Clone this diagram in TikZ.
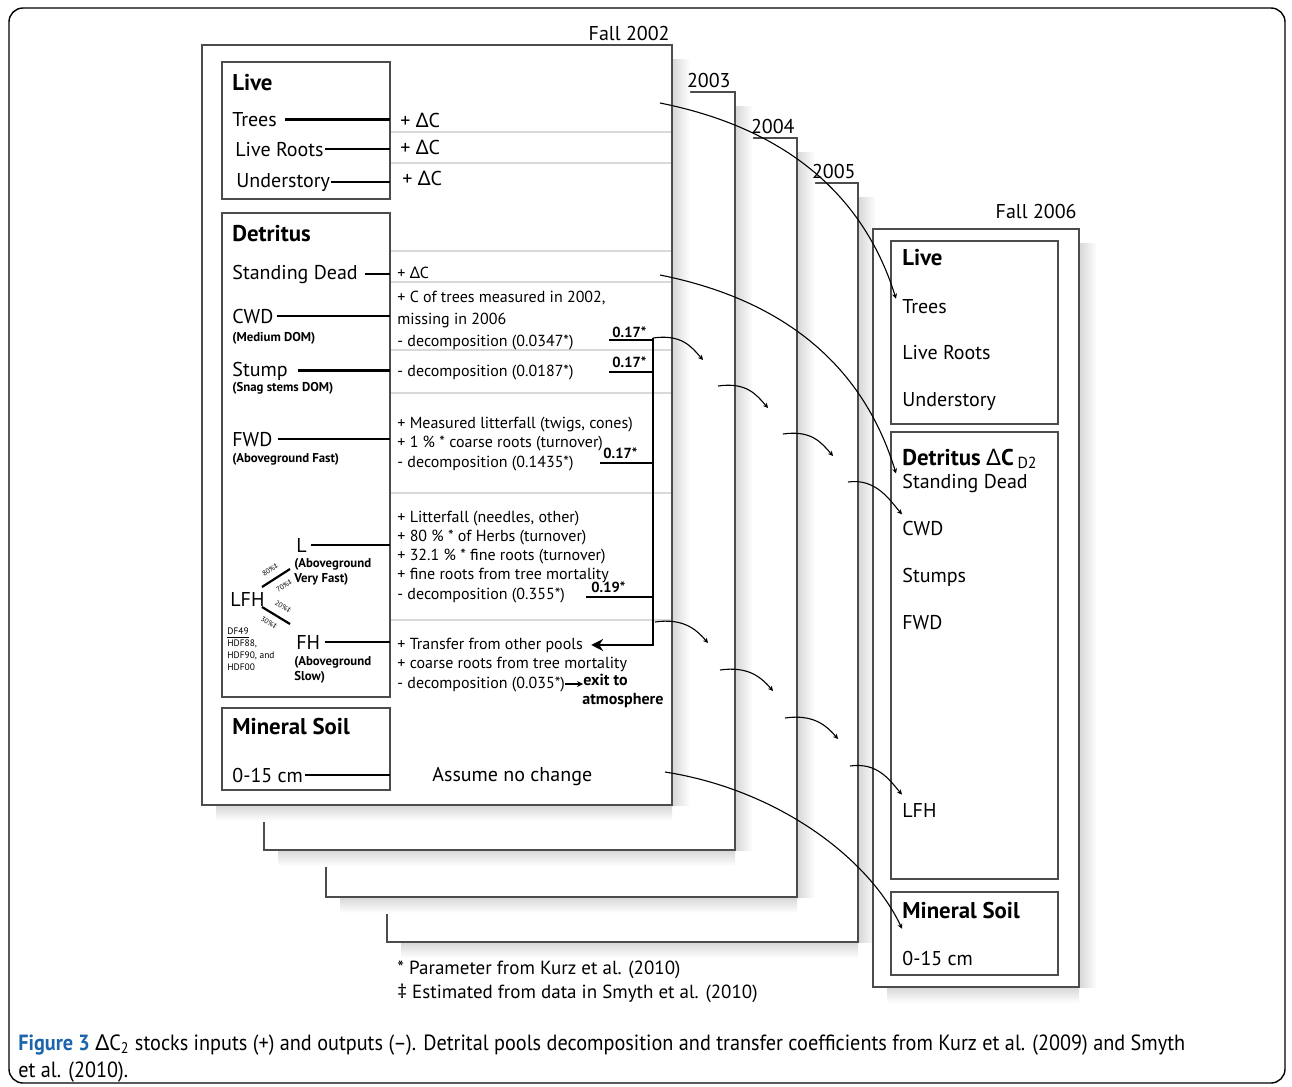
\documentclass[tikz,border=0pt]{standalone}
\usepackage{fontspec}
\setmainfont{PT Sans}
\newfontfamily\grk{Noto Sans}
\newfontfamily\capfont[FakeStretch=0.92]{PT Sans}
\usepackage{xcolor}
\usetikzlibrary{positioning,arrows.meta,calc}
\definecolor{figblue}{RGB}{28,100,172}
\newcommand{\dC}{{\grk Δ}C}
\newcommand{\dagg}{{\grk ‡}}

\begin{document}
\begin{tikzpicture}[x=0.5pt,y=-0.5pt,>=Stealth,
  every node/.style={inner sep=0pt,anchor=base west},
  lbl/.style={font=\fontsize{10}{12}\selectfont},
  hdr/.style={font=\fontsize{11.4}{13}\selectfont\bfseries},
  sub/.style={font=\fontsize{6.4}{7.5}\selectfont\bfseries},
  flux/.style={font=\fontsize{8}{9.5}\selectfont},
  coef/.style={font=\fontsize{7.3}{8.5}\selectfont\bfseries},
  exitlbl/.style={font=\fontsize{8}{9.5}\selectfont\bfseries},
  note/.style={font=\fontsize{4.7}{5.5}\selectfont},
  pct/.style={font=\fontsize{3.6}{4.2}\selectfont,anchor=center},
  fnote/.style={font=\fontsize{9.5}{11}\selectfont},
  yr/.style={lbl,anchor=base east},
  capt/.style={font=\capfont\fontsize{11}{13}\selectfont},
  sheet/.style={draw=black!70,line width=0.7pt,fill=white},
  pool/.style={draw=black!70,line width=0.8pt},
  link/.style={line width=1.4pt},
  rowsep/.style={draw=black!15,line width=0.6pt},
  flow/.style={-{Stealth[length=2.5pt,width=2.5pt]},line width=0.55pt},
  shdr/.style={left color=black!16,right color=white},
  shdb/.style={top color=black!16,bottom color=white}]
  \useasboundingbox (0,0) rectangle (1292,1087);
  \draw[line width=0.7pt,rounded corners=7pt] (9,8) rectangle (1285,1083);

  % yearly sheets, back to front
  \foreach \l/\t/\r/\b in {387/183/858/942,326/138/797/897,264/92/735/850,202/45/672/805}{
    \shade[shdr] (\r,\t+14) rectangle (\r+18,\b);
    \shade[shdb] (\l+14,\b) rectangle (\r,\b+16);
    \draw[sheet] (\l,\t) rectangle (\r,\b);
  }
  \shade[shdr] (1079,243) rectangle (1097,987);
  \shade[shdb] (887,987) rectangle (1079,1003);
  \draw[sheet] (873,229) rectangle (1079,987);

  \node[yr] (y02) at (670,40) {Fall 2002};
  \node[yr] (y03) at (731,87) {2003};
  \node[yr] (y04) at (795,133) {2004};
  \node[yr] (y05) at (856,178) {2005};
  \node[yr] (y06) at (1077,218) {Fall 2006};

  % Fall 2002 pools
  \draw[pool] (222,62) rectangle (390,199);
  \draw[pool] (222,213) rectangle (390,697);
  \draw[pool] (222,708) rectangle (390,790);
  \coordinate (div) at (390,0);
  \foreach \y in {132,163,251,282,350,393,493,620} \draw[rowsep] (391,\y) -- (671,\y);

  \node[hdr] (live) at (232,90) {Live};
  \node[lbl] (trees) at (232,126) {Trees};
  \node[lbl] (roots) at (235,156) {Live Roots};
  \node[lbl] (under) at (236,187) {Understory};
  \node[hdr] (detr) at (232,241) {Detritus};
  \node[lbl] (sdead) at (232,279) {Standing Dead};
  \node[lbl] (cwd) at (232,323) {CWD};
  \node[sub] (cwdsub) at (232,341) {(Medium DOM)};
  \node[lbl] (stump) at (232,376) {Stump};
  \node[sub] (stumpsub) at (232,391) {(Snag stems DOM)};
  \node[lbl] (fwd) at (232,446) {FWD};
  \node[sub] (fwdsub) at (232,462) {(Aboveground Fast)};
  \node[lbl] (lit) at (296,552) {L};
  \node[sub] (litsub1) at (294,567) {(Aboveground};
  \node[sub] (litsub2) at (294,582) {Very Fast)};
  \node[lbl] (lfh) at (230,606) {LFH};
  \node[lbl] (fh) at (296,649) {FH};
  \node[sub] (fhsub1) at (294,665) {(Aboveground};
  \node[sub] (fhsub2) at (294,680) {Slow)};
  \node[hdr] (msoil) at (232,734) {Mineral Soil};
  \node[lbl] (depth) at (232,782) {0-15 cm};

  \foreach \n/\g in {trees/4,roots/0.5,under/0.5,sdead/3.5,cwd/1.5,stump/5,fwd/2.5,lit/2,fh/2,depth/1}
    \draw[link] ([xshift=\g]\n.east) -- (\n.east -| div);

  % LFH split
  \coordinate (s1) at (262,587); \coordinate (s2) at (290,569);
  \coordinate (s3) at (262,607); \coordinate (s4) at (290,624);
  \draw[line width=1.1pt] (s1) -- (s2);
  \draw[line width=1.1pt] (s3) -- (s4);
  \node[pct,rotate=33] (p80) at (270,570) {80\%\dagg};
  \node[pct,rotate=33] (p70) at (284,586) {70\%\dagg};
  \node[pct,rotate=-31] (p20) at (283,607) {20\%\dagg};
  \node[pct,rotate=-31] (p30) at (269,623) {30\%\dagg};
  \node[note] (df1) at (227,634) {\underline{DF49}};
  \node[note] (df2) at (227,646) {HDF88,};
  \node[note] (df3) at (227,658) {HDF90, and};
  \node[note] (df4) at (227,670) {HDF00};

  % changes
  \node[lbl] (dc1) at (400,127) {+ \dC};
  \node[lbl] (dc2) at (400,154) {+ \dC};
  \node[lbl] (dc3) at (402,185) {+ \dC};
  \node[flux] (dc4) at (397,278) {+ \dC};
  \foreach \t [count=\i] in {{+ C of trees measured in 2002,},{missing in 2006},{- decomposition (0.0347*)}}
    \node[flux] (cw\i) at (397,280+22*\i) {\t};
  \node[flux] (sp1) at (397,376) {- decomposition (0.0187*)};
  \foreach \t [count=\i] in {{+ Measured litterfall (twigs, cones)},{+ 1 \% * coarse roots (turnover)},{- decomposition (0.1435*)}}
    \node[flux] (fw\i) at (397,408.5+19.5*\i) {\t};
  \foreach \t [count=\i] in {{+ Litterfall (needles, other)},{+ 80 \% * of Herbs (turnover)},{+ 32.1 \% * fine roots (turnover)},{+ fine roots from tree mortality},{- decomposition (0.355*)}}
    \node[flux] (lf\i) at (397,502.75+19.25*\i) {\t};
  \foreach \t [count=\i] in {{+ Transfer from other pools},{+ coarse roots from tree mortality},{- decomposition (0.035*)}}
    \node[flux] (fh\i) at (397,629.5+19.5*\i) {\t};
  \node[exitlbl] (exit) at (583,685) {exit to};
  \node[exitlbl] (atm) at (582,704) {atmosphere};
  \draw[-{Stealth[length=3pt,width=3pt]},line width=0.8pt] (fh3.east) -- (fh3.east -| exit.west);
  \node[lbl] (same) at (432,781) {Assume no change};

  % transfer coefficients
  \coordinate (bar) at (653,338);
  \foreach \x/\y/\lx/\ly/\v [count=\i] in {609/340/612/337/0.17,609/372/612/367/0.17,600/463/603/458/0.17,586/597/591/592/0.19}{
    \coordinate (k\i) at (\x,\y);
    \node[coef] (c\i) at (\lx,\ly) {\v*};
    \draw[link] (k\i) -- (k\i -| bar);
  }
  \draw[link,-{Stealth[length=6pt,width=6pt]}] (bar) |- ([xshift=4]fh1.east);

  % Fall 2006 pools
  \draw[pool] (891,241) rectangle (1058,424);
  \draw[pool] (891,432) rectangle (1058,879);
  \draw[pool] (891,892) rectangle (1058,975);
  \node[hdr] (live06) at (902,265) {Live};
  \node[lbl] (t06) at (902,313) {Trees};
  \node[lbl] (r06) at (902,359) {Live Roots};
  \node[lbl] (u06) at (902,406) {Understory};
  \node[hdr] (det06) at (902,465) {Detritus \dC\,\textsubscript{\mdseries D2}};
  \node[lbl] (sd06) at (902,488) {Standing Dead};
  \node[lbl] (cwd06) at (902,535) {CWD};
  \node[lbl] (st06) at (902,582) {Stumps};
  \node[lbl] (fwd06) at (902,629) {FWD};
  \node[lbl] (lfh06) at (902,817) {LFH};
  \node[hdr] (ms06) at (902,918) {Mineral Soil};
  \node[lbl] (dp06) at (902,965) {0-15 cm};

  % carry-over arrows
  \coordinate (o1) at (660,103);
  \coordinate (o2) at (660,275);
  \coordinate (o3) at (665,772);
  \draw[flow] (o1) .. controls (780,127) and (862,190) .. ([xshift=-3]t06.north west);
  \draw[flow] (o2) .. controls (780,299) and (862,362) .. ([xshift=-3]sd06.north west);
  \draw[flow] (o3) .. controls (780,790) and (870,860) .. ([yshift=-5]ms06.south west);
  \foreach \i in {0,1,2}{
    \coordinate (a\i) at (653+65*\i,338+48*\i);
    \coordinate (b\i) at (703+65*\i,360+48*\i);
    \draw[flow] (a\i) .. controls +(28,-4) and +(-12,-14) .. (b\i);
    \coordinate (g\i) at (655+65*\i,622+48*\i);
    \coordinate (h\i) at (708+65*\i,643+48*\i);
    \draw[flow] (g\i) .. controls +(28,-4) and +(-12,-14) .. (h\i);
  }
  \coordinate (a3) at (848,482);
  \draw[flow] (a3) .. controls +(28,-4) and +(-12,-14) .. ([yshift=3]cwd06.north west);
  \coordinate (g3) at (850,766);
  \draw[flow] (g3) .. controls +(28,-4) and +(-12,-14) .. ([yshift=4]lfh06.north west);

  % notes and caption
  \node[fnote] (fn1) at (397,974) {* Parameter from Kurz et al. (2010)};
  \node[fnote] (fn2) at (397,998) {\dagg\ Estimated from data in Smyth et al. (2010)};
  \node[capt] (fig1) at (18,1050) {\textcolor{figblue}{\bfseries Figure 3} {\grk Δ}C\textsubscript{2} stocks inputs (+) and outputs (–). Detrital pools decomposition and transfer coefficients from Kurz et al. (2009) and Smyth};
  \node[capt] (fig2) at (18,1077) {et al. (2010).};
\end{tikzpicture}
\end{document}
